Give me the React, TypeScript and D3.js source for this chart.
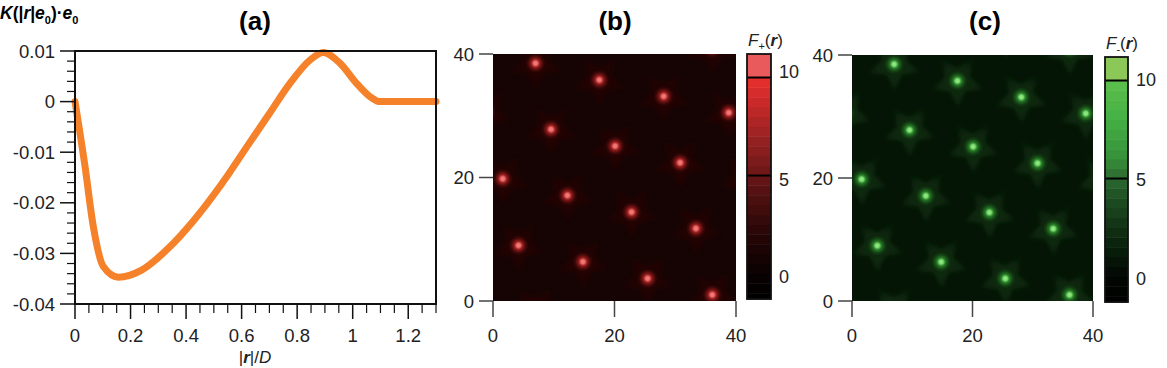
import React from "react";
import * as d3 from "d3";

// ---------- Panel (a) data ----------
const kX = [0, 0.036, 0.066, 0.102, 0.156, 0.24, 0.336, 0.432, 0.528, 0.624, 0.702, 0.774, 0.846, 0.894, 0.954, 1.014, 1.062, 1.098, 1.2, 1.3];
const kY = [0, -0.0128, -0.0247, -0.0326, -0.0347, -0.0333, -0.029, -0.0232, -0.0163, -0.0085, -0.0022, 0.0036, 0.0082, 0.0097, 0.0076, 0.0036, 0.001, 0, 0, 0];
const aXTicks = [0, 0.2, 0.4, 0.6, 0.8, 1, 1.2];
const aXTickLabels = ["0", "0.2", "0.4", "0.6", "0.8", "1", "1.2"];
const aYTicks = [0.01, 0, -0.01, -0.02, -0.03, -0.04];
const aYTickLabels = ["0.01", "0", "-0.01", "-0.02", "-0.03", "-0.04"];

// ---------- Panels (b),(c) data: spot centres (grid units) ----------
const spotX = [7.0, 17.5, 28.1, 38.8, 9.55, 20.1, 30.8, 1.6, 12.25, 22.8, 33.4, 4.2, 14.8, 25.45, 36.1];
const spotY = [38.5, 35.8, 33.15, 30.5, 27.8, 25.1, 22.4, 19.8, 17.1, 14.4, 11.75, 9.0, 6.35, 3.65, 1.0];
const mapTicks = [0, 20, 40];
const barTicks = [0, 5, 10];

const FONT = "'Liberation Sans', Arial, Helvetica, sans-serif";

function PanelA() {
  const x = d3.scaleLinear().domain([0, 1.3]).range([75, 436]);
  const y = d3.scaleLinear().domain([-0.04, 0.01]).range([304, 51]);
  const pts = kX.map((v, i) => [v, kY[i]] as [number, number]);
  const line = d3
    .line<[number, number]>()
    .x((d) => x(d[0]))
    .y((d) => y(d[1]))
    .curve(d3.curveMonotoneX);
  const xMinor = d3.range(0, 1.3001, 0.05).filter((v) => Math.abs(v / 0.2 - Math.round(v / 0.2)) > 1e-6);
  const yMinor = d3.range(-0.04, 0.01001, 0.002).filter((v) => Math.abs(v / 0.01 - Math.round(v / 0.01)) > 1e-6);
  const [x0, x1] = x.range();
  const [yb, yt] = y.range();
  return (
    <g fontFamily={FONT}>
      <text x={255} y={30} fontSize={26} fontWeight="bold" textAnchor="middle">(a)</text>
      <text x={0} y={19} fontSize={17.5} fontWeight="bold">
        <tspan fontStyle="italic">K</tspan>
        <tspan>(|</tspan>
        <tspan fontStyle="italic">r</tspan>
        <tspan>|</tspan>
        <tspan fontStyle="italic">e</tspan>
        <tspan fontSize={11} dy={5}>0</tspan>
        <tspan dy={-5}>)·</tspan>
        <tspan fontStyle="italic">e</tspan>
        <tspan fontSize={11} dy={5}>0</tspan>
      </text>
      <path d={line(pts) || ""} fill="none" stroke="#F5822A" strokeWidth={7} strokeLinecap="round" strokeLinejoin="round" />
      <rect x={x0} y={yt} width={x1 - x0} height={yb - yt} fill="none" stroke="#111" strokeWidth={2} />
      {aYTicks.map((t, i) => (
        <g key={"yt" + i}>
          <line x1={60} x2={x0} y1={y(t)} y2={y(t)} stroke="#111" strokeWidth={1.5} />
          <text x={55} y={y(t)} dy="0.36em" fontSize={18.5} textAnchor="end" fill="#222">{aYTickLabels[i]}</text>
        </g>
      ))}
      {yMinor.map((t, i) => (
        <line key={"ym" + i} x1={67} x2={x0} y1={y(t)} y2={y(t)} stroke="#111" strokeWidth={1.2} />
      ))}
      {aXTicks.map((t, i) => (
        <g key={"xt" + i}>
          <line x1={x(t)} x2={x(t)} y1={yb} y2={yb + 15} stroke="#111" strokeWidth={1.5} />
          <text x={x(t)} y={342} fontSize={18.5} textAnchor="middle" fill="#222">{aXTickLabels[i]}</text>
        </g>
      ))}
      {xMinor.map((t, i) => (
        <line key={"xm" + i} x1={x(t)} x2={x(t)} y1={yb} y2={yb + 9} stroke="#111" strokeWidth={1.2} />
      ))}
      <text x={255} y={363} fontSize={17} textAnchor="middle" fill="#222">
        <tspan>|</tspan>
        <tspan fontStyle="italic" fontWeight="bold">r</tspan>
        <tspan>|/</tspan>
        <tspan fontStyle="italic">D</tspan>
      </text>
    </g>
  );
}

type MapProps = {
  id: string;
  left: number;
  top: number;
  w: number;
  h: number;
  bg: string;
  halo: string;
  haloOpacity: number;
  core: string;
  glow: string;
  bar: { left: number; top: number; w: number; h: number };
  barStops: [number, string][];
  barTop: string;
  barLabelY: number[];
  title: string;
  sub: string;
  titleX: number;
};

function starPath(cx: number, cy: number, R: number, r: number, rot: number) {
  const pts: [number, number][] = d3.range(10).map((k) => {
    const a = rot + (k * Math.PI) / 5;
    const rr = k % 2 === 0 ? R : r;
    return [cx + rr * Math.cos(a), cy + rr * Math.sin(a)];
  });
  return "M" + pts.map((p) => p.join(",")).join("L") + "Z";
}

function MapPanel(p: MapProps) {
  const xs = d3.scaleLinear().domain([0, 40]).range([p.left, p.left + p.w]);
  const ys = d3.scaleLinear().domain([0, 40]).range([p.top + p.h, p.top]);
  const spots: [number, number][] = [];
  spotX.forEach((sx, i) => {
    [-40, 0, 40].forEach((ox) =>
      [-40, 0, 40].forEach((oy) => {
        const X = sx + ox;
        const Y = spotY[i] + oy;
        if (X > -6 && X < 46 && Y > -6 && Y < 46) spots.push([X, Y]);
      })
    );
  });
  const cb = d3.scaleLinear().domain([-1.3, 11.2]).range([p.bar.top + p.bar.h, p.bar.top]);
  const color = d3
    .scaleLinear<string>()
    .domain(p.barStops.map((s) => s[0]))
    .range(p.barStops.map((s) => s[1]))
    .clamp(true);
  const bands = d3.range(-1.5, 10, 0.5);
  const rot = (-55 * Math.PI) / 180;
  return (
    <g fontFamily={FONT}>
      <defs>
        <clipPath id={p.id + "clip"}>
          <rect x={p.left} y={p.top} width={p.w} height={p.h} />
        </clipPath>
        <radialGradient id={p.id + "core"}>
          <stop offset="0" stopColor={p.core} stopOpacity={1} />
          <stop offset="0.2" stopColor={p.core} stopOpacity={0.9} />
          <stop offset="0.45" stopColor={p.glow} stopOpacity={0.55} />
          <stop offset="0.75" stopColor={p.glow} stopOpacity={0.15} />
          <stop offset="1" stopColor={p.glow} stopOpacity={0} />
        </radialGradient>
        <radialGradient id={p.id + "halo"}>
          <stop offset="0" stopColor={p.halo} stopOpacity={p.haloOpacity} />
          <stop offset="0.6" stopColor={p.halo} stopOpacity={p.haloOpacity * 0.75} />
          <stop offset="1" stopColor={p.halo} stopOpacity={p.haloOpacity * 0.3} />
        </radialGradient>
        <filter id={p.id + "blur"} x="-20%" y="-20%" width="140%" height="140%">
          <feGaussianBlur stdDeviation={2} />
        </filter>
      </defs>
      <g clipPath={`url(#${p.id}clip)`}>
        <rect x={p.left} y={p.top} width={p.w} height={p.h} fill={p.bg} />
        <g filter={`url(#${p.id}blur)`}>
          {spots.map((s, i) => (
            <path key={"h" + i} d={starPath(xs(s[0]), ys(s[1]), 28, 13, rot)} fill={`url(#${p.id}halo)`} />
          ))}
        </g>
        {spots.map((s, i) => (
          <circle key={"c" + i} cx={xs(s[0])} cy={ys(s[1])} r={10} fill={`url(#${p.id}core)`} />
        ))}
      </g>
      {mapTicks.map((t, i) => (
        <g key={"my" + i}>
          <line x1={p.left - 14} x2={p.left} y1={ys(t)} y2={ys(t)} stroke="#444" strokeWidth={1.5} />
          <text x={p.left - 19} y={ys(t)} dy="0.36em" fontSize={18.5} textAnchor="end" fill="#222">{t}</text>
          <line x1={xs(t)} x2={xs(t)} y1={p.top + p.h} y2={p.top + p.h + 16} stroke="#444" strokeWidth={1.5} />
          <text x={xs(t)} y={342} fontSize={18.5} textAnchor="middle" fill="#222">{t}</text>
        </g>
      ))}
      <text x={p.titleX} y={30} fontSize={26} fontWeight="bold" textAnchor="middle">{p.title}</text>
      {bands.map((b, i) => {
        const y1 = cb(Math.min(b + 0.5, 10));
        const y0 = cb(Math.max(b, -1.3));
        return <rect key={"b" + i} x={p.bar.left} y={y1} width={p.bar.w} height={y0 - y1 + 0.5} fill={color(b + 0.25)} />;
      })}
      <rect x={p.bar.left} y={p.bar.top} width={p.bar.w} height={cb(10) - p.bar.top} fill={p.barTop} />
      <line x1={p.bar.left} x2={p.bar.left + p.bar.w} y1={cb(10)} y2={cb(10)} stroke="#000" strokeWidth={2} />
      <line x1={p.bar.left} x2={p.bar.left + p.bar.w} y1={cb(5)} y2={cb(5)} stroke="#000" strokeWidth={2} />
      <rect x={p.bar.left} y={p.bar.top} width={p.bar.w} height={p.bar.h} fill="none" stroke="#111" strokeWidth={1.8} />
      {barTicks.map((t, i) => (
        <text key={"bt" + i} x={p.bar.left + p.bar.w + 8} y={p.barLabelY[i]} dy="0.36em" fontSize={18} fill="#222">{t}</text>
      ))}
      <text x={p.bar.left + 1} y={p.bar.top - 8} fontSize={17} fill="#222">
        <tspan fontStyle="italic">F</tspan>
        <tspan fontSize={11} dy={4}>{p.sub}</tspan>
        <tspan dy={-4}>(</tspan>
        <tspan fontStyle="italic" fontWeight="bold">r</tspan>
        <tspan>)</tspan>
      </text>
    </g>
  );
}

export default function App() {
  return (
    <svg width={1167} height={368} style={{ position: "absolute", left: 0, top: 0, background: "#fff" }}>
      <PanelA />
      <MapPanel
        id="b"
        left={493}
        top={54}
        w={243}
        h={247}
        bg="#160303"
        halo="#3a0a0a"
        haloOpacity={0.4}
        core="#ff7a7a"
        glow="#e02a2a"
        bar={{ left: 747, top: 54, w: 24, h: 245 }}
        barStops={[[-1.3, "#000000"], [0, "#0a0101"], [2, "#260606"], [4, "#4f1010"], [5, "#6a1616"], [7, "#9a2222"], [9, "#d02a2a"], [10, "#e8302c"]]}
        barTop="#e85a5c"
        barLabelY={[277, 180, 72]}
        title="(b)"
        sub="+"
        titleX={615}
      />
      <MapPanel
        id="c"
        left={852}
        top={55}
        w={241}
        h={246}
        bg="#051505"
        halo="#143c18"
        haloOpacity={0.6}
        core="#8ef080"
        glow="#35b035"
        bar={{ left: 1105, top: 57, w: 23, h: 245 }}
        barStops={[[-1.3, "#000000"], [0, "#020702"], [2, "#0c280e"], [4, "#1d4e22"], [5, "#2c6830"], [6, "#369038"], [8, "#44b044"], [10, "#5cc04c"]]}
        barTop="#8cc858"
        barLabelY={[279, 180, 80]}
        title="(c)"
        sub="-"
        titleX={985}
      />
    </svg>
  );
}
